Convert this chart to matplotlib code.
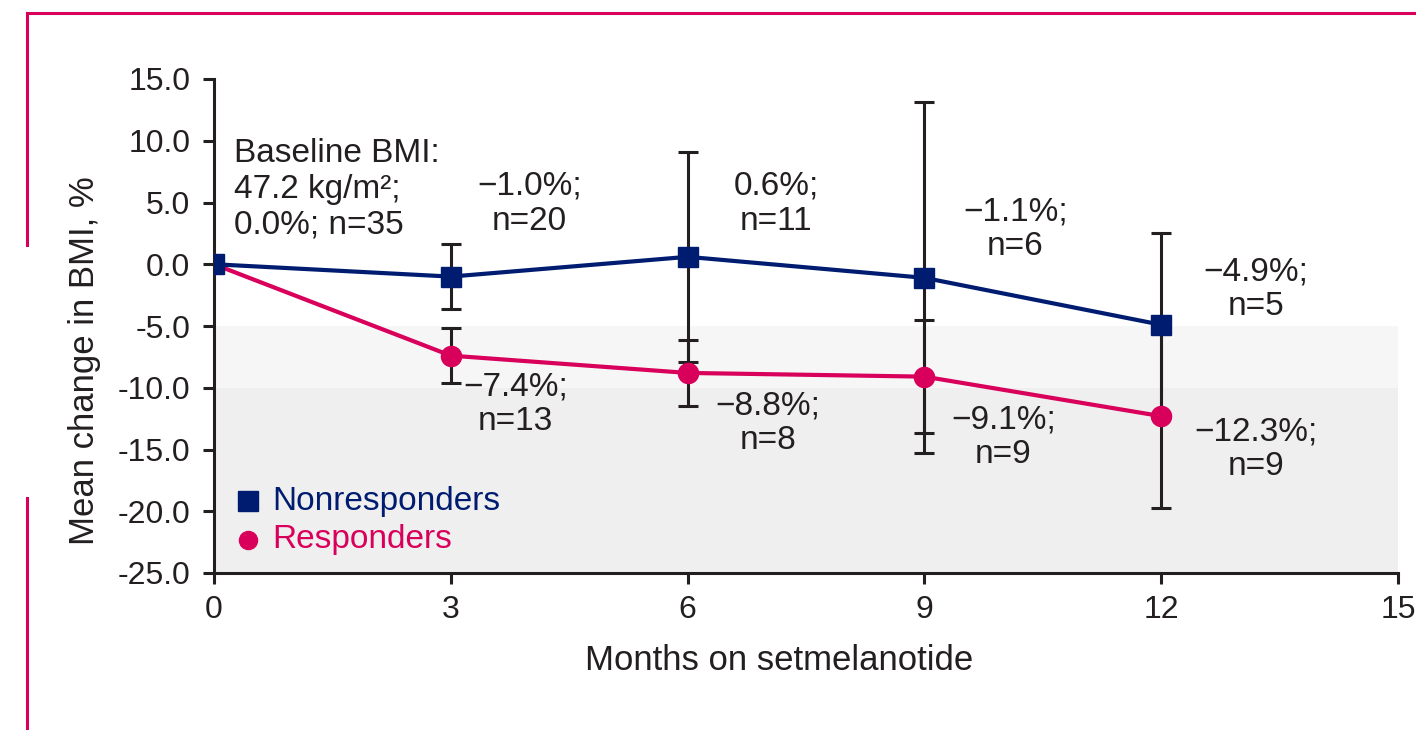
import matplotlib
matplotlib.use("Agg")
import matplotlib.pyplot as plt
from matplotlib.lines import Line2D

plt.rcParams['font.family'] = ['Liberation Sans', 'DejaVu Sans']

months = [0, 3, 6, 9, 12]
nonresp_mean = [0.0, -1.0, 0.6, -1.1, -4.9]
nonresp_err = [0.0, 2.6, 8.5, 14.2, 7.4]
resp_mean = [0.0, -7.4, -8.8, -9.1, -12.3]
resp_err = [0.0, 2.2, 2.7, 4.55, 7.4]

nonresp_labels = ["\u22121.0%;\nn=20", "0.6%;\nn=11", "\u22121.1%;\nn=6", "\u22124.9%;\nn=5"]
resp_labels = ["\u22127.4%;\nn=13", "\u22128.8%;\nn=8", "\u22129.1%;\nn=9", "\u221212.3%;\nn=9"]
baseline_label = "Baseline BMI:\n47.2 kg/m\u00b2;\n0.0%; n=35"

xticks = [0, 3, 6, 9, 12, 15]
yticks = [15, 10, 5, 0, -5, -10, -15, -20, -25]

navy = '#001c71'
pink = '#d9005b'
dark = '#231f20'

fig = plt.figure(figsize=(14.16, 7.30), dpi=100)
W, H = 1416, 730
ax = fig.add_axes([214 / W, 1 - 573 / H, (1398 - 214) / W, (573 - 79) / H])

# shaded bands
ax.axhspan(-10, -5, xmin=0, xmax=1, color='#f6f6f6', zorder=0, lw=0)
ax.axhspan(-25, -10, xmin=0, xmax=1, color='#efefef', zorder=0, lw=0)

ax.errorbar(months[1:], nonresp_mean[1:], yerr=nonresp_err[1:], fmt='none',
            ecolor=dark, elinewidth=2.2, capsize=7, capthick=2.2, zorder=2)
ax.errorbar(months[1:], resp_mean[1:], yerr=resp_err[1:], fmt='none',
            ecolor=dark, elinewidth=2.2, capsize=7, capthick=2.2, zorder=2)

ax.plot(months, resp_mean, color=pink, lw=3, marker='o', ms=14.5, zorder=3)
ax.plot(months, nonresp_mean, color=navy, lw=3, marker='s', ms=14.5, zorder=4)

ax.set_xlim(0, 15)
ax.set_ylim(-25, 15)
ax.set_xticks(xticks)
ax.set_yticks(yticks)
ax.set_yticklabels([f"{v:.1f}" for v in yticks])
ax.set_xticklabels([str(v) for v in xticks])
for s in ['top', 'right']:
    ax.spines[s].set_visible(False)
for s in ['left', 'bottom']:
    ax.spines[s].set_color(dark)
    ax.spines[s].set_linewidth(2.2)
ax.tick_params(axis='both', direction='out', length=8, width=2.2, color=dark,
               labelsize=23, labelcolor=dark)
ax.tick_params(axis='y', pad=9)
ax.tick_params(axis='x', pad=8)
ax.set_facecolor('none')

fs = 24
ax.text(0.25, 10.2, baseline_label, ha='left', va='top', fontsize=fs, color=dark,
        linespacing=1.2)
nr_pos = [(4.0, 4.9), (7.12, 4.9), (10.15, 2.85), (13.2, -2.0)]
r_pos = [(3.82, -11.3), (7.02, -12.9), (10.0, -14.0), (13.2, -15.0)]
for lab, (x, y) in zip(nonresp_labels, nr_pos):
    ax.text(x, y, lab, ha='center', va='center', fontsize=fs, color=dark, linespacing=1.15)
for lab, (x, y) in zip(resp_labels, r_pos):
    ax.text(x, y, lab, ha='center', va='center', fontsize=fs, color=dark, linespacing=1.15)

# legend
ax.plot([0.43], [-19.2], marker='s', ms=14, color=navy, lw=0, clip_on=False)
ax.plot([0.43], [-22.3], marker='o', ms=13, color=pink, lw=0, clip_on=False)
ax.text(0.74, -19.2, "Nonresponders", ha='left', va='center', fontsize=fs, color=navy)
ax.text(0.74, -22.3, "Responders", ha='left', va='center', fontsize=fs, color=pink)

fig.text(779 / W, 1 - 660 / H, "Months on setmelanotide", ha='center', va='center',
         fontsize=25, color=dark)
fig.text(85 / W, 1 - 361 / H, "Mean change in BMI, %", ha='center', va='center',
         rotation=90, fontsize=25, color=dark)

# pink frame
fx = 27 / W
fig.add_artist(Line2D([fx, 1.0], [1 - 13 / H, 1 - 13 / H], color=pink, lw=2.2))
fig.add_artist(Line2D([fx, fx], [1 - 13 / H, 1 - 245 / H], color=pink, lw=2.2))
fig.add_artist(Line2D([fx, fx], [1 - 498 / H, 0.0], color=pink, lw=2.2))

fig.savefig("out.png", dpi=100)
